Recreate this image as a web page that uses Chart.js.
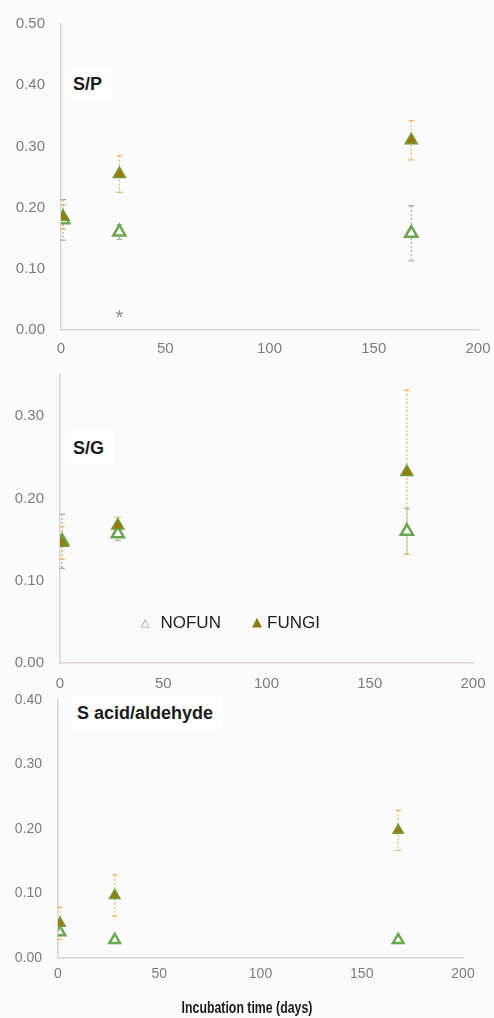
<!DOCTYPE html>
<html>
<head>
<meta charset="utf-8">
<script src="https://cdn.jsdelivr.net/npm/chart.js@4.4.0/dist/chart.umd.min.js"></script>
<style>
body { margin:0; background:#fbfbfb; width:494px; height:1018px; position:relative; overflow:hidden; font-family:"Liberation Sans", Arial, sans-serif; }
canvas { position:absolute; left:0; }
.tag { position:absolute; background:#fff; font-weight:bold; font-size:18px; color:#1a1a1a; padding:6px 10px 5px 5px; line-height:22px; white-space:nowrap; }
.leg { position:absolute; top:613px; line-height:20px; font-size:17px; color:#222; white-space:nowrap; }
.leg .mk { font-family:"DejaVu Sans",sans-serif; position:relative; top:-2px; }
.xtitle { position:absolute; left:0; width:494px; top:998px; text-align:center; font-weight:bold; font-size:16px; line-height:20px; color:#1a1a1a; transform:scaleX(0.77); }
</style>
</head>
<body>
<canvas id="sp" width="494" height="365" style="top:0px"></canvas>
<canvas id="sg" width="494" height="340" style="top:360px"></canvas>
<canvas id="sa" width="494" height="300" style="top:690px"></canvas>

<div class="tag" style="left:68px;top:67px">S/P</div>
<div class="tag" style="left:68px;top:431px">S/G</div>
<div class="tag" style="left:72px;top:696px">S acid/aldehyde</div>

<div class="leg" style="left:141px"><span class="mk" style="color:#6aa84f;font-size:11px;margin-right:11px">△</span>NOFUN</div>
<div class="leg" style="left:252px"><span class="mk" style="color:#8f7a14;font-size:13px;margin-right:5px">▲</span>FUNGI</div>

<div class="xtitle">Incubation time (days)</div>

<script>
// incubation days
var days = [1, 28, 168];

// S/P
var spNofun = [0.18, 0.16, 0.158];
var spNofunErr = [0.033, 0.012, 0.045];
var spFungi = [0.185, 0.255, 0.31];
var spFungiErr = [0.02, 0.03, 0.032];

// S/G
var sgNofun = [0.148, 0.157, 0.16];
var sgNofunErr = [0.033, 0.008, 0.028];
var sgFungi = [0.146, 0.167, 0.232];
var sgFungiErr = [0.02, 0.01, 0.1];

// S acid/aldehyde
var saNofun = [0.04, 0.028, 0.028];
var saNofunErr = [0, 0, 0];
var saFungi = [0.054, 0.097, 0.198];
var saFungiErr = [0.025, 0.032, 0.031];

// asterisk under day 28 in S/P
var starDay = 28, starValue = 0.025;

Chart.defaults.font.family = '"Liberation Sans", Arial, sans-serif';
Chart.defaults.color = '#7c7c7c';

function points(vals) {
	var out = [];
	for (var i = 0; i < days.length; i++) out.push({x: days[i], y: vals[i]});
	return out;
}

var errorBars = {
	id: 'errorBars',
	beforeDatasetsDraw: function (chart) {
		var ctx = chart.ctx, xs = chart.scales.x, ys = chart.scales.y;
		chart.data.datasets.forEach(function (ds) {
			if (!ds.errors) return;
			ctx.save();
			ctx.strokeStyle = ds.errorColor;
			ctx.lineWidth = 1.3;
			ds.data.forEach(function (p, i) {
				var e = ds.errors[i];
				if (!e) return;
				var px = xs.getPixelForValue(p.x);
				var top = ys.getPixelForValue(p.y + e), bot = ys.getPixelForValue(p.y - e);
				ctx.setLineDash([2, 2]);
				ctx.beginPath(); ctx.moveTo(px, top); ctx.lineTo(px, bot); ctx.stroke();
				ctx.setLineDash([]);
				ctx.beginPath();
				ctx.moveTo(px - 3, top); ctx.lineTo(px + 3, top);
				ctx.moveTo(px - 3, bot); ctx.lineTo(px + 3, bot);
				ctx.stroke();
			});
			ctx.restore();
		});
	},
	afterDatasetsDraw: function (chart, args, opts) {
		if (!opts.star) return;
		var ctx = chart.ctx;
		ctx.save();
		ctx.fillStyle = '#8a8a8a';
		ctx.font = '20px "Liberation Sans", Arial';
		ctx.textAlign = 'center';
		ctx.textBaseline = 'middle';
		ctx.fillText('*', chart.scales.x.getPixelForValue(opts.star.x), chart.scales.y.getPixelForValue(opts.star.y) + 4);
		ctx.restore();
	}
};

function panel(id, nofun, nofunErr, fungi, fungiErr, yMax, lay) {
	return new Chart(document.getElementById(id), {
		type: 'scatter',
		data: {
			datasets: [{
				label: 'NOFUN',
				data: points(nofun),
				errors: nofunErr,
				errorColor: '#a9b59c',
				pointStyle: 'triangle',
				pointRadius: lay.radius,
				pointBackgroundColor: '#ffffff',
				pointBorderColor: '#6aa84f',
				pointBorderWidth: 2.5,
				order: 2
			}, {
				label: 'FUNGI',
				data: points(fungi),
				errors: fungiErr,
				errorColor: '#f1b96a',
				pointStyle: 'triangle',
				pointRadius: lay.radius,
				pointBackgroundColor: '#9a7a0c',
				pointBorderColor: '#6f9c3c',
				pointBorderWidth: 1.5,
				order: 1
			}]
		},
		options: {
			responsive: false,
			animation: false,
			layout: {padding: {left: 0, top: lay.top, right: lay.right, bottom: 0}},
			plugins: {
				legend: {display: false},
				tooltip: {enabled: false},
				errorBars: {star: lay.star}
			},
			scales: {
				x: {
					type: 'linear', min: 0, max: 200,
					grid: {display: false, drawTicks: false},
					border: {display: true, color: '#ddd3d3', width: 1.5},
					ticks: {stepSize: 50, padding: lay.xPad, font: {size: lay.font}, maxRotation: 0},
					afterFit: function (s) {
						s.height = lay.xHeight;
						s.paddingLeft = 0;
						s.paddingRight = 0;
					}
				},
				y: {
					type: 'linear', min: 0, max: yMax,
					grid: {display: false, drawTicks: false},
					border: {display: true, color: '#ddd3d3', width: 1.5},
					ticks: {
						stepSize: 0.1, padding: 16, font: {size: lay.font},
						callback: function (v) { return v.toFixed(2); }
					},
					afterBuildTicks: function (s) {
						s.ticks = s.ticks.filter(function (t) {
							return Math.abs(t.value * 10 - Math.round(t.value * 10)) < 1e-6;
						});
					},
					afterFit: function (s) {
						s.width = lay.yWidth;
						s.paddingTop = 0;
						s.paddingBottom = 0;
					}
				}
			}
		},
		plugins: [errorBars]
	});
}

panel('sp', spNofun, spNofunErr, spFungi, spFungiErr, 0.5,
	{top: 24, right: 16, yWidth: 61, xHeight: 35, xPad: 10, font: 15, radius: 7, star: {x: starDay, y: starValue}});
panel('sg', sgNofun, sgNofunErr, sgFungi, sgFungiErr, 0.35,
	{top: 15, right: 21, yWidth: 60, xHeight: 37, xPad: 12, font: 15, radius: 7});
panel('sa', saNofun, saNofunErr, saFungi, saFungiErr, 0.4,
	{top: 10, right: 31, yWidth: 58, xHeight: 32, xPad: 8, font: 14, radius: 6});
</script>
</body>
</html>
